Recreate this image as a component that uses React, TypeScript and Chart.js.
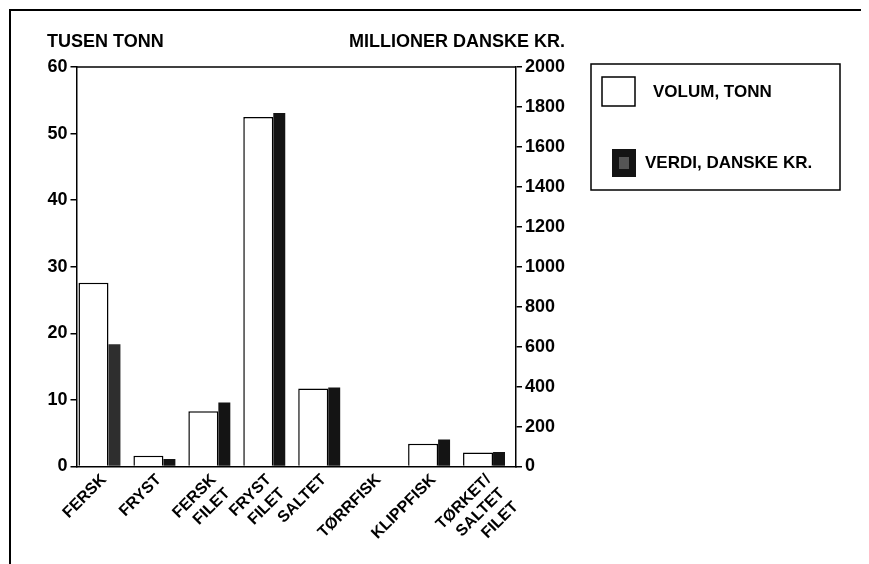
import React, { useEffect, useRef } from "react";
import { Chart, registerables } from "chart.js";

Chart.register(...registerables);

const categories: (string | string[])[] = [
  "FERSK",
  "FRYST",
  ["FERSK", "FILET"],
  ["FRYST", "FILET"],
  "SALTET",
  "TØRRFISK",
  "KLIPPFISK",
  ["TØRKET/", "SALTET", "FILET"],
];
const volumeTonn = [27.6, 1.6, 8.3, 52.5, 11.7, 0, 3.4, 2.1];
const valueDkk = [612, 37, 321, 1770, 395, 0, 135, 72];
const leftTicks = [0, 10, 20, 30, 40, 50, 60];
const rightTicks = [0, 200, 400, 600, 800, 1000, 1200, 1400, 1600, 1800, 2000];
const leftTitle = "TUSEN TONN";
const rightTitle = "MILLIONER DANSKE KR.";
const seriesNames = ["VOLUM, TONN", "VERDI, DANSKE KR."];

const FONT = "'Liberation Sans', Arial, sans-serif";
const W = 861;
const H = 556;

const decorPlugin = {
  id: "decor",
  afterDraw(chart: any) {
    const ctx = chart.ctx;
    const a = chart.chartArea;
    ctx.save();
    ctx.fillStyle = "#000";
    // outer frame
    ctx.fillRect(1, 1, W - 1, 2);
    ctx.fillRect(1, 1, 2, H - 1);
    // top border of plot
    ctx.strokeStyle = "#000";
    ctx.lineWidth = 1.5;
    ctx.beginPath();
    ctx.moveTo(a.left, a.top);
    ctx.lineTo(a.right, a.top);
    ctx.stroke();
    // titles
    ctx.font = `bold 18px ${FONT}`;
    ctx.textBaseline = "middle";
    ctx.textAlign = "left";
    ctx.fillText(leftTitle, 39, 34);
    ctx.textAlign = "right";
    ctx.fillText(rightTitle, 557, 34);
    // legend
    const ds = chart.data.datasets;
    ctx.lineWidth = 1.5;
    ctx.strokeRect(583, 56, 249, 126);
    ctx.fillStyle = "#fff";
    ctx.fillRect(594, 69, 33, 29);
    ctx.strokeRect(594, 69, 33, 29);
    ctx.fillStyle = "#141414";
    ctx.fillRect(604, 141, 24, 28);
    ctx.fillStyle = "#555";
    ctx.fillRect(611, 149, 10, 12);
    ctx.fillStyle = "#000";
    ctx.font = `bold 17px ${FONT}`;
    ctx.textAlign = "left";
    ctx.fillText(ds[0].label, 645, 84);
    ctx.fillText(ds[1].label, 637, 155);
    ctx.restore();
  },
};

export default function App() {
  const ref = useRef<HTMLCanvasElement | null>(null);
  useEffect(() => {
    if (!ref.current) return;
    const tickFont = { family: FONT, size: 18, weight: "bold" as const };
    const plain = (v: any) => String(v);
    const chart = new Chart(ref.current, {
      type: "bar",
      data: {
        labels: categories,
        datasets: [
          {
            label: seriesNames[0],
            data: volumeTonn,
            yAxisID: "y",
            backgroundColor: "#ffffff",
            borderColor: "#000000",
            borderWidth: 1.5,
            categoryPercentage: 0.764,
            barPercentage: 1.43,
          },
          {
            label: seriesNames[1],
            data: valueDkk,
            yAxisID: "y2",
            backgroundColor: valueDkk.map((_, i) => (i === 0 ? "#2e2e2e" : "#141414")),
            borderColor: "#000000",
            borderWidth: 0,
            categoryPercentage: 0.764,
            barPercentage: 0.57,
          },
        ],
      },
      options: {
        responsive: false,
        animation: false,
        layout: { padding: { top: 59, left: 0, right: 0, bottom: 0 } },
        plugins: { legend: { display: false }, tooltip: { enabled: false } },
        scales: {
          x: {
            grid: { display: false },
            border: { display: true, color: "#000", width: 1.5 },
            ticks: {
              color: "#000",
              font: { family: FONT, size: 16, weight: "bold" },
              maxRotation: 45,
              minRotation: 45,
              autoSkip: false,
              padding: -4,
            },
            afterFit(s: any) {
              s.height = 97.5;
            },
          },
          y: {
            position: "left",
            min: 0,
            max: 60,
            afterBuildTicks(s: any) {
              s.ticks = leftTicks.map((v) => ({ value: v }));
            },
            grid: { drawOnChartArea: false, drawTicks: true, tickLength: 6, color: "#000", lineWidth: 1.5 },
            border: { display: true, color: "#000", width: 1.5 },
            ticks: { color: "#000", font: tickFont, padding: 3, callback: plain },
            afterFit(s: any) {
              s.width = 68.5;
            },
          },
          y2: {
            position: "right",
            min: 0,
            max: 2000,
            afterBuildTicks(s: any) {
              s.ticks = rightTicks.map((v) => ({ value: v }));
            },
            grid: { drawOnChartArea: false, drawTicks: true, tickLength: 6, color: "#000", lineWidth: 1.5 },
            border: { display: true, color: "#000", width: 1.5 },
            ticks: { color: "#000", font: tickFont, padding: 3, callback: plain },
            afterFit(s: any) {
              s.width = 353;
            },
          },
        },
      },
      plugins: [decorPlugin],
    });
    return () => chart.destroy();
  }, []);
  return (
    <div style={{ width: W, height: H, background: "#fff" }}>
      <canvas ref={ref} width={W} height={H} style={{ display: "block" }} />
    </div>
  );
}
